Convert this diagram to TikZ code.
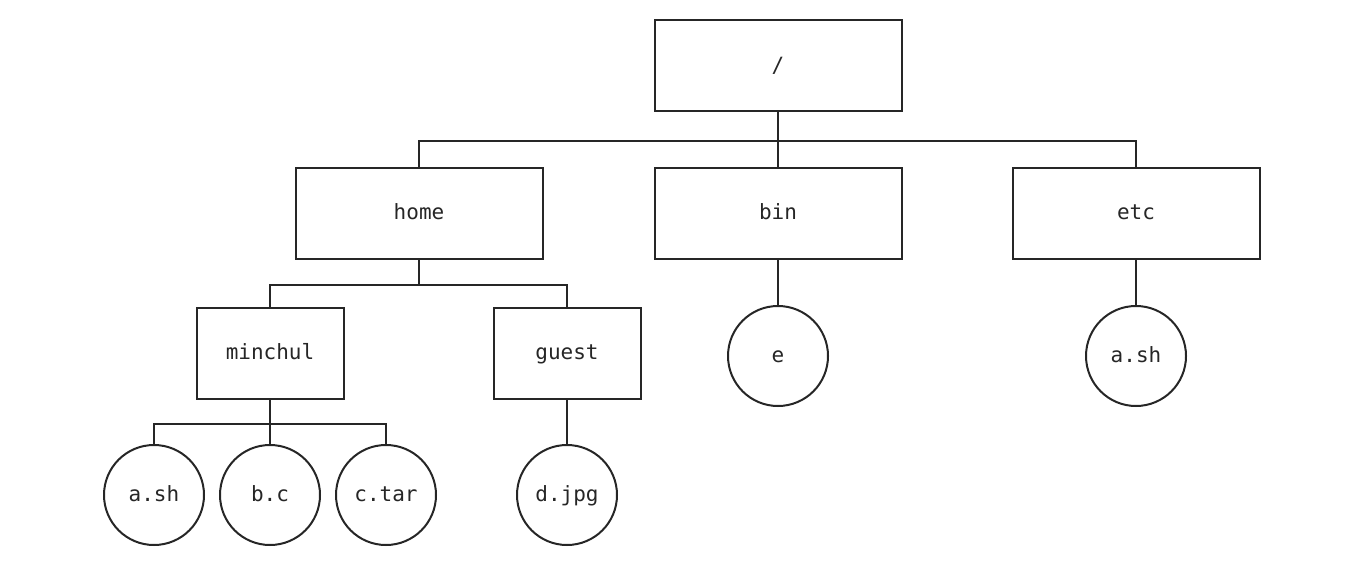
\documentclass[tikz,border=0pt]{standalone}
\usepackage{fontspec}
\setmonofont{DejaVu Sans Mono}
\usetikzlibrary{positioning}
\tikzset{>=latex}
\tikzset{
  dirbox/.style={draw=black!85, line width=1pt, minimum width=123.5pt, minimum height=45.5pt, text height=1.6ex, text depth=0ex, font=\ttfamily\fontsize{10.5}{12}\selectfont, text=black!85},
  smallbox/.style={dirbox, minimum width=73.5pt},
  filenode/.style={draw=black!85, circle, line width=1pt, minimum size=50pt, inner sep=0pt, text height=1.6ex, text depth=0ex, font=\ttfamily\fontsize{10.5}{12}\selectfont, text=black!85},
  link/.style={draw=black!85, line width=1pt}
}
\begin{document}
\begin{tikzpicture}[x=0.5pt, y=-0.5pt]
      \useasboundingbox (0,0) rectangle (1348,567);
      \node (root) at (778,66) [dirbox] {/};
      \node (home) at (419,213) [dirbox] {home};
      \node (bin) at (778,213) [dirbox] {bin};
      \node (etc) at (1136,213) [dirbox] {etc};
      \node (minchul) at (270,353) [smallbox] {minchul};
      \node (guest) at (567,353) [smallbox] {guest};
      \node (e) at (778,356) [filenode] {e};
      \node (etcsh) at (1136,356) [filenode] {a.sh};
      \node (ash) at (154,495) [filenode] {a.sh};
      \node (bc) at (270,495) [filenode] {b.c};
      \node (ctar) at (386,495) [filenode] {c.tar};
      \node (djpg) at (567,495) [filenode] {d.jpg};
      \draw[link] (root.south) -- +(0,28) -| (home.north);
      \draw[link] (root.south) -- (bin.north);
      \draw[link] (root.south) -- +(0,28) -| (etc.north);
      \draw[link] (home.south) -- +(0,25) -| (minchul.north);
      \draw[link] (home.south) -- +(0,25) -| (guest.north);
      \draw[link] (bin.south) -- (e.north);
      \draw[link] (etc.south) -- (etcsh.north);
      \draw[link] (minchul.south) -- +(0,24) -| (ash.north);
      \draw[link] (minchul.south) -- (bc.north);
      \draw[link] (minchul.south) -- +(0,24) -| (ctar.north);
      \draw[link] (guest.south) -- (djpg.north);
    \end{tikzpicture}
\end{document}
